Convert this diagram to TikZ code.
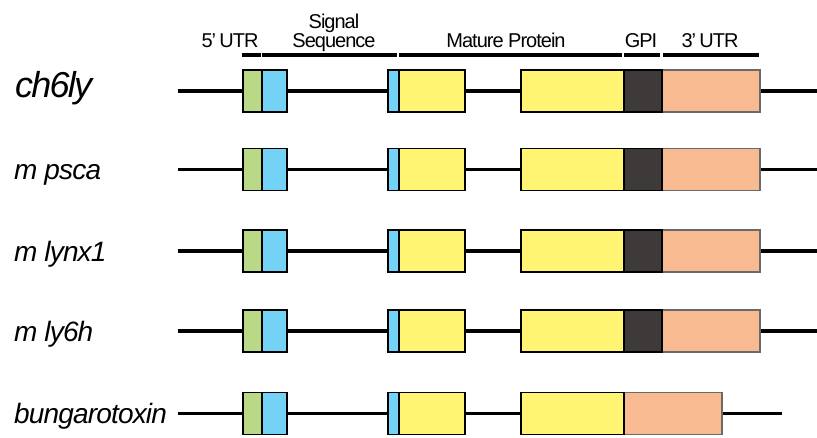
\documentclass[tikz,border=0pt]{standalone}
\usepackage{fontspec}
\setmainfont{Liberation Sans}
\newfontfamily\hdrfont[LetterSpace=-5]{Liberation Sans}
\newfontfamily\genefont[LetterSpace=-3]{Liberation Sans}
\newfontfamily\bigfont[LetterSpace=-5]{Liberation Sans}
\definecolor{cgreen}{HTML}{B9D986}
\definecolor{cblue}{HTML}{73D2F5}
\definecolor{cyellow}{HTML}{FFF573}
\definecolor{cpeach}{HTML}{F8BA90}
\definecolor{cgpi}{HTML}{3E3A39}
\definecolor{cpeachline}{HTML}{6A6A6A}
\begin{document}
\begin{tikzpicture}[x=1pt,y=-1pt,
  exon/.style={draw=black, line width=1.5pt, inner sep=0pt, minimum height=42pt, anchor=west},
  utrexon/.style={exon, draw=cpeachline, fill=cpeach},
  backbone/.style={line width=3.4pt, black},
  regionbar/.style={line width=4pt, black},
  hdr/.style={font=\hdrfont\fontsize{20}{19}\selectfont, inner sep=0pt, anchor=base, align=center},
  gene/.style={font=\genefont\itshape\fontsize{28}{30}\selectfont, inner sep=0pt, anchor=base west},
  biggene/.style={font=\bigfont\itshape\fontsize{36}{38}\selectfont, inner sep=0pt, anchor=base west}]
\useasboundingbox (0,0) rectangle (817,438);

% header bars
\foreach \n/\a/\b in {utr5/242/261, sig/262/397, mat/399/622, gpi/624/660, utr3/663/759}{
  \coordinate (\n L) at (\a,55);
  \coordinate (\n R) at (\b,55);
  \draw[regionbar] (\n L) -- (\n R);
}
\node[hdr] (hutr5) at (230,47.5) {5’\,UTR};
\node[hdr] (hsig) at (334,47.5) {Signal\\Sequence};
\node[hdr] (hmat) at (506,47.5) {Mature Protein};
\node[hdr] (hgpi) at (641,47.5) {GPI};
\node[hdr] (hutr3) at (710,47.5) {3’\,UTR};

% rows with GPI
\foreach \r/\y/\endx in {1/91/817, 2/169.5/817, 3/251/817, 4/331/817}{
  \coordinate (s\r) at (178,\y);
  \coordinate (e\r) at (\endx,\y);
  \draw[backbone] (s\r) -- (e\r);
  \node[exon, fill=cgreen, minimum width=19pt] (g\r) at (242,\y) {};
  \node[exon, fill=cblue, minimum width=25pt] (b\r) at (261,\y) {};
  \node[exon, fill=cblue, minimum width=11pt] (bs\r) at (387,\y) {};
  \node[exon, fill=cyellow, minimum width=66pt] (y\r) at (398,\y) {};
  \node[exon, fill=cyellow, minimum width=103pt] (yy\r) at (520,\y) {};
  \node[utrexon, minimum width=98pt] (u\r) at (661,\y) {};
  \node[exon, fill=cgpi, minimum width=38pt] (p\r) at (623,\y) {};
}
% bungarotoxin row
\coordinate (s5) at (178,413.5);
\coordinate (e5) at (782,413.5);
\draw[backbone] (s5) -- (e5);
\node[exon, fill=cgreen, minimum width=19pt] (g5) at (242,413.5) {};
\node[exon, fill=cblue, minimum width=25pt] (b5) at (261,413.5) {};
\node[exon, fill=cblue, minimum width=11pt] (bs5) at (387,413.5) {};
\node[exon, fill=cyellow, minimum width=66pt] (y5) at (398,413.5) {};
\node[utrexon, minimum width=98pt] (u5) at (623,413.5) {};
\node[exon, fill=cyellow, minimum width=103pt] (yy5) at (520,413.5) {};

% gene labels
\node[biggene] (l1) at (15,98) {ch6ly};
\node[gene] (l2) at (14,180) {m psca};
\node[gene] (l3) at (14,261.5) {m lynx1};
\node[gene] (l4) at (14,341.5) {m ly6h};
\node[gene] (l5) at (14,423) {bungarotoxin};
\end{tikzpicture}
\end{document}
